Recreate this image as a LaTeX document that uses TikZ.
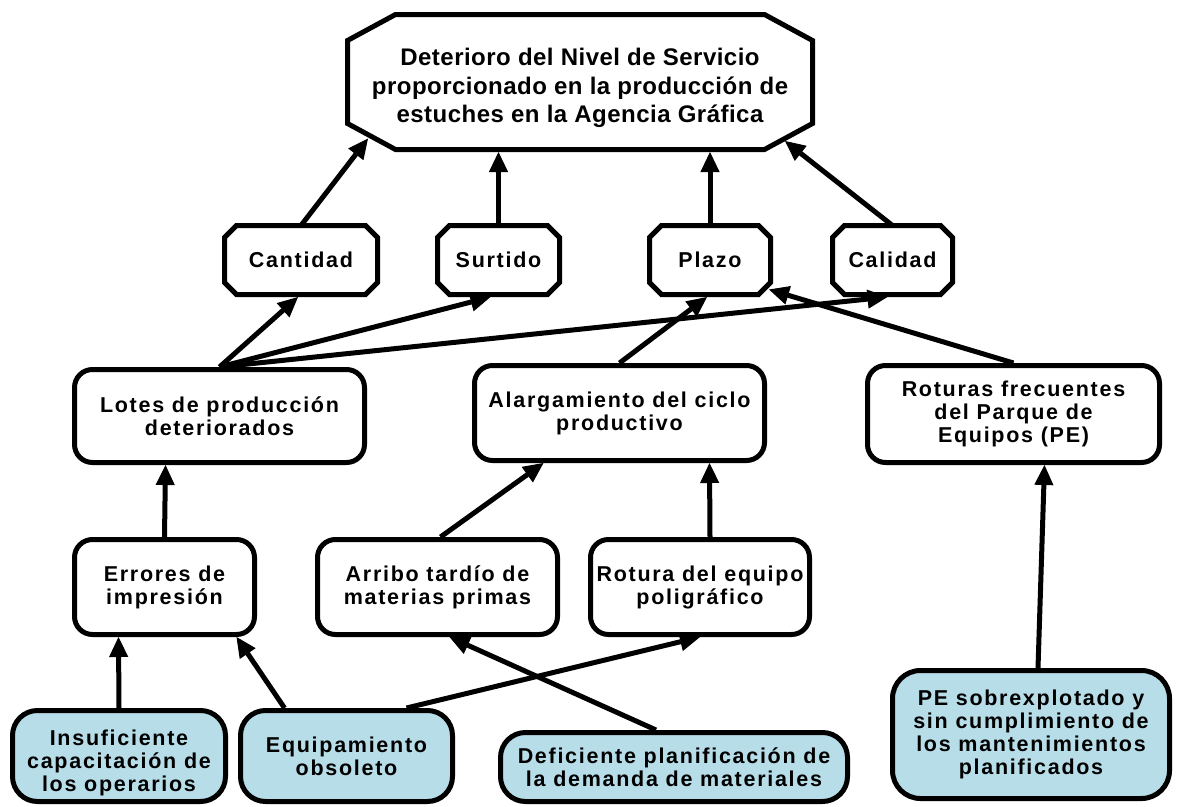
\documentclass[tikz,border=0pt]{standalone}
\usepackage{fontspec}
\newfontfamily\boxfont{Liberation Sans}[LetterSpace=8]
\newfontfamily\goalfont{Liberation Sans}[LetterSpace=2]
\usepackage{xcolor}
\usetikzlibrary{arrows.meta}
\definecolor{causefill}{RGB}{183,221,232}
% octagonal outline round a named node: name, cut x, cut y
\newcommand\chamferbox[3]{%
  \draw[line width=5pt, line join=miter] ([xshift=#2]#1.north west) -- ([xshift=-#2]#1.north east)
    -- ([yshift=-#3]#1.north east) -- ([yshift=#3]#1.south east)
    -- ([xshift=-#2]#1.south east) -- ([xshift=#2]#1.south west)
    -- ([yshift=#3]#1.south west) -- ([yshift=-#3]#1.north west) -- cycle;}

\begin{document}
\begin{tikzpicture}[x=1pt, y=-1pt,
  every node/.style={align=center, font=\boxfont\bfseries\fontsize{21.5}{23}\selectfont},
  octo/.style={inner sep=0pt, outer sep=0pt},
  goalbox/.style={octo, minimum width=465pt, minimum height=135pt, text height=87pt,
    font=\goalfont\bfseries\fontsize{24}{28.5}\selectfont},
  aspect/.style={octo, minimum height=69pt},
  effect/.style={draw, line width=5pt, rounded corners=18pt, minimum height=95pt},
  cause/.style={draw, line width=5pt, rounded corners=25pt, fill=causefill, minimum height=91pt},
  edge/.style={line width=5pt, -{Triangle[length=20pt,width=19pt,line width=1pt]}}
]
\useasboundingbox (0,0) rectangle (1178,806);
% problem
\node[goalbox] (goal) at (580,82) {Deterioro del Nivel de Servicio\\proporcionado en la producción de\\estuches en la Agencia Gráfica};
\chamferbox{goal}{48pt}{26pt}
% aspects of the service level
\node[aspect, minimum width=153pt] (cantidad) at (301,260) {Cantidad};
\node[aspect, minimum width=122pt] (surtido) at (498.5,260) {Surtido};
\node[aspect, minimum width=121pt] (plazo) at (710,260) {Plazo};
\node[aspect, minimum width=120pt] (calidad) at (892.5,260) {Calidad};
\chamferbox{cantidad}{12pt}{12pt}
\chamferbox{surtido}{12pt}{12pt}
\chamferbox{plazo}{12pt}{12pt}
\chamferbox{calidad}{12pt}{12pt}
% effects
\node[effect, minimum width=290pt, minimum height=93pt] (lotes) at (219.5,416) {Lotes de producción\\deteriorados};
\node[effect, minimum width=290pt] (alarga) at (619.5,413) {Alargamiento del ciclo\\productivo};
\node[effect, minimum width=292pt, minimum height=97pt] (roturas) at (1013.5,414) {Roturas frecuentes\\del Parque de\\Equipos (PE)};
\node[effect, minimum width=180pt] (errores) at (164.5,587) {Errores de\\impresión};
\node[effect, minimum width=240pt] (arribo) at (437.5,587) {Arribo tardío de\\materias primas};
\node[effect, minimum width=219pt] (rotura) at (700,587) {Rotura del equipo\\poligráfico};
% root causes
\node[cause, minimum width=213pt, text height=75pt] (insuf) at (119,756) {Insuficiente\\capacitación de\\los operarios};
\node[cause, minimum width=212pt] (equipo) at (346.5,756) {Equipamiento\\obsoleto};
\node[cause, minimum width=347pt, minimum height=69pt] (planif) at (674,767) {Deficiente planificación de\\la demanda de materiales};
\node[cause, minimum width=277pt, minimum height=128pt, rounded corners=28pt] (sobreexp) at (1031,734.5) {PE sobrexplotado y\\sin cumplimiento de\\los mantenimientos\\planificados};
% links
\draw[edge] (cantidad.north) -- ([xshift=-212pt,yshift=11pt]goal.south);
\draw[edge] (surtido.north) -- ([xshift=-81.5pt,yshift=-2.5pt]goal.south);
\draw[edge] (plazo.north) -- ([xshift=130pt,yshift=-2.5pt]goal.south);
\draw[edge] (calidad.north) -- ([xshift=205pt,yshift=8.5pt]goal.south);
\draw[edge] (lotes.north) -- ([xshift=-3pt,yshift=-2.5pt]cantidad.south);
\draw[edge] (lotes.north) -- ([xshift=-8pt,yshift=-2.5pt]surtido.south);
\draw[edge] (lotes.north) -- ([xshift=-5pt,yshift=-2.5pt]calidad.south);
\draw[edge] (alarga.north) -- ([xshift=-3pt,yshift=-2.5pt]plazo.south);
\draw[edge] (roturas.north) -- ([xshift=59pt,yshift=5pt]plazo.south);
\draw[edge] (errores.north) -- ([xshift=-54pt]lotes.south);
\draw[edge] ([xshift=3pt]arribo.north) -- ([xshift=-76pt]alarga.south);
\draw[edge] ([xshift=10pt]rotura.north) -- ([xshift=90pt]alarga.south);
\draw[edge] (insuf.north) -- ([xshift=-46pt]errores.south);
\draw[edge] ([xshift=-62pt]equipo.north) -- ([xshift=72pt]errores.south);
\draw[edge] ([xshift=60pt]equipo.north) -- (rotura.south);
\draw[edge] ([xshift=-18pt]planif.north) -- ([xshift=12pt]arribo.south);
\draw[edge] ([xshift=7pt]sobreexp.north) -- ([xshift=31pt]roturas.south);
\end{tikzpicture}
\end{document}
